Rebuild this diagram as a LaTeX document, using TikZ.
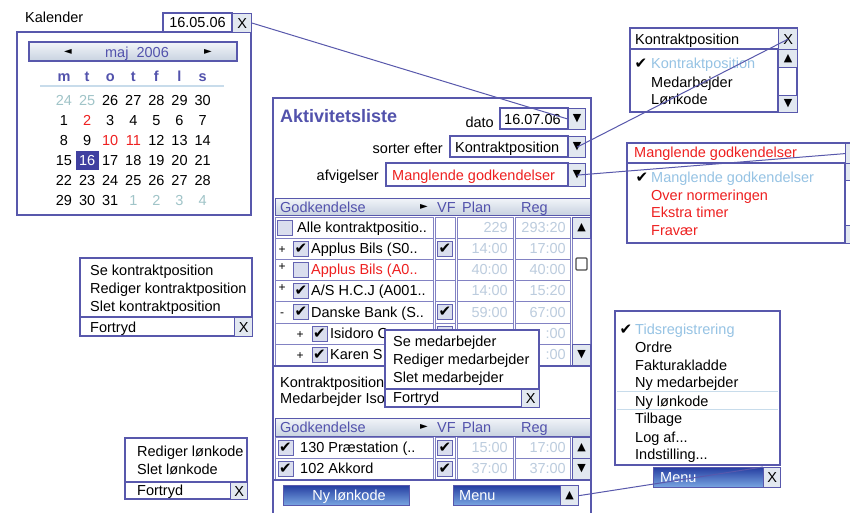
\documentclass[tikz,border=0pt]{standalone}
\usepackage{fontspec}
\setmainfont{Liberation Sans}
\newfontfamily\symf{DejaVu Sans}
\usetikzlibrary{calc}
\definecolor{uiblue}{RGB}{88,88,172}
\definecolor{gridc}{RGB}{130,130,195}
\definecolor{valc}{RGB}{188,204,222}
\definecolor{lightsel}{RGB}{150,195,228}
\definecolor{calgray}{RGB}{160,196,200}
\definecolor{uired}{RGB}{238,32,32}
\definecolor{hdtxt}{RGB}{82,82,172}
\definecolor{barTop}{RGB}{242,245,249}
\definecolor{barBot}{RGB}{200,210,224}
\definecolor{arrfill}{RGB}{226,232,240}
\definecolor{chkfill}{RGB}{218,222,238}
\definecolor{chkdraw}{RGB}{100,100,178}
\definecolor{btnTop}{RGB}{36,60,160}
\definecolor{btnBot}{RGB}{120,165,225}
\definecolor{sepc}{RGB}{200,220,235}
\definecolor{selbg}{RGB}{64,64,160}
\newcommand\ui{\fontsize{14.5}{17}\selectfont}
\newcommand\myck{{\symf\fontsize{15}{15}\selectfont ✔}}
\newcommand\tUp{{\symf\fontsize{11}{11}\selectfont ▲}}
\newcommand\tDn{{\symf\fontsize{11}{11}\selectfont ▼}}
\newcommand\tRt{{\symf\fontsize{10}{10}\selectfont ►}}
\newcommand\tLt{{\symf\fontsize{10}{10}\selectfont ◄}}
\tikzset{
 txt/.style={anchor=base west, inner sep=0pt, font=\ui},
 txtr/.style={anchor=base east, inner sep=0pt, font=\ui},
 txtc/.style={anchor=base, inner sep=0pt, font=\ui},
 frm/.style={draw=uiblue, line width=1.3pt, fill=white},
 sepl/.style={draw=uiblue, line width=1.2pt},
 cellb/.style={draw=gridc, line width=1pt},
 arrbox/.style={draw=uiblue, line width=1.2pt, fill=arrfill, inner sep=0pt, anchor=north west, font=\ui},
 chkb/.style={draw=chkdraw, line width=1pt, fill=chkfill, inner sep=0pt, minimum size=15pt},
 hbar/.style={draw=uiblue, line width=0.8pt, top color=barTop, bottom color=barBot},
 btn/.style={draw=uiblue, line width=1pt, top color=btnTop, bottom color=btnBot},
 conn/.style={draw=uiblue, line width=1pt},
 valtxt/.style={txtr, text=valc},
 plus/.style={anchor=base, inner sep=0pt, font=\fontsize{12}{12}\selectfont},
 hdr/.style={txt, text=hdtxt},
}
\begin{document}
\begin{tikzpicture}[x=1pt,y=-1pt]
\useasboundingbox (0,0) rectangle (850,512);
\clip (0,0) rectangle (850,512);
\fill[white] (0,0) rectangle (850,512);

% ---------------- Calendar ----------------
\node[txt] (kal) at (25,22) {Kalender};
\draw[frm] (17,32) rectangle (251,215);
\draw[frm] (163,13) rectangle (232,32);
\node[txtc] (caldate) at (197.5,27.5) {16.05.06};
\node[arrbox, minimum width=19pt, minimum height=19pt] (calx) at (232,13) {X};
\draw[hbar, line width=1.2pt] (29,42) rectangle (237,61);
\node[txtc, text=hdtxt] (month) at (137,57) {maj\ \ 2006};
\node[inner sep=0pt] (prevm) at (68,51.5) {\tLt};
\node[inner sep=0pt] (nextm) at (208,51.5) {\tRt};
\foreach \d [count=\i from 0] in {m,t,o,t,f,l,s}
  \node[txtc, font=\ui\bfseries, text=hdtxt] (wd\i) at ({64+23.1*\i},81) {\d};
\draw[sepc, line width=1.2pt] (40,86) -- (224,86);
\fill[selbg] (76,151) rectangle (99,170);
\foreach \n/\c [count=\i from 0] in {24/calgray,25/calgray,26/black,27/black,28/black,29/black,30/black}
  \node[txtc,text=\c] (ca\i) at ({64+23.1*\i},105) {\n};
\foreach \n/\c [count=\i from 0] in {1/black,2/uired,3/black,4/black,5/black,6/black,7/black}
  \node[txtc,text=\c] (cb\i) at ({64+23.1*\i},125) {\n};
\foreach \n/\c [count=\i from 0] in {8/black,9/black,10/uired,11/uired,12/black,13/black,14/black}
  \node[txtc,text=\c] (cc\i) at ({64+23.1*\i},145) {\n};
\foreach \n/\c [count=\i from 0] in {15/black,16/white,17/black,18/black,19/black,20/black,21/black}
  \node[txtc,text=\c] (cd\i) at ({64+23.1*\i},165) {\n};
\foreach \n/\c [count=\i from 0] in {22/black,23/black,24/black,25/black,26/black,27/black,28/black}
  \node[txtc,text=\c] (ce\i) at ({64+23.1*\i},185) {\n};
\foreach \n/\c [count=\i from 0] in {29/black,30/black,31/black,1/calgray,2/calgray,3/calgray,4/calgray}
  \node[txtc,text=\c] (cf\i) at ({64+23.1*\i},205) {\n};

% ---------------- Main panel ----------------
\draw[frm] (273,98) rectangle (591,540);
\node[txt, font=\fontsize{18}{20}\selectfont\bfseries, text=hdtxt] (title) at (280,122) {Aktivitetsliste};

\node[txtr] (datol) at (494,127) {dato};
\draw[frm] (500,108) rectangle (568,129);
\node[txt] (datov) at (504,124) {16.07.06};
\node[arrbox, minimum width=17pt, minimum height=21pt] (datoarr) at (568,108) {\tDn};

\node[txtr] (sortl) at (443,153) {sorter efter};
\draw[frm] (450,136) rectangle (568,157);
\node[txt] (sortv) at (455,152) {Kontraktposition};
\node[arrbox, minimum width=17pt, minimum height=21pt] (sortarr) at (568,136) {\tDn};

\node[txtr] (afvl) at (379,180) {afvigelser};
\draw[frm] (386,163) rectangle (568,186);
\node[txt, text=uired] (afvv) at (392,180) {Manglende godkendelser};
\node[arrbox, minimum width=17pt, minimum height=23pt] (afvarr) at (568,163) {\tDn};

% Table 1
\draw[hbar] (275,198) rectangle (590,215);
\node[hdr] (h1a) at (280,212) {Godkendelse};
\node[inner sep=0pt] (h1b) at (424,206.5) {\tRt};
\node[hdr] (h1c) at (437,212) {VF};
\node[hdr] (h1d) at (462,212) {Plan};
\node[hdr] (h1e) at (521,212) {Reg};
\foreach \a/\b in {217/238,238/259,259/280,280/301,301/323,323/344,344/365} {
  \draw[cellb] (275,\a) rectangle (433,\b);
  \draw[cellb] (435,\a) rectangle (455,\b);
  \draw[cellb] (457,\a) rectangle (513,\b);
  \draw[cellb] (515,\a) rectangle (570,\b);
}
\draw[cellb] (572,217) rectangle (590,365);
\node[arrbox, minimum width=18pt, minimum height=21pt] (s1up) at (572,217) {\tUp};
\node[arrbox, minimum width=18pt, minimum height=21pt] (s1dn) at (572,344) {\tDn};
\draw[draw=black!70, line width=1.3pt, fill=white, rounded corners=1pt] (576,258) rectangle (587,270);
\draw[sepl] (273,366) -- (591,366);

% row 1
\node[chkb] (k1) at (284.5,227.5) {};
\node[txt] (n1) at (297,232.5) {Alle kontraktpositio..};
\node[valtxt] (p1) at (508,232.5) {229};
\node[valtxt] (g1) at (566,232.5) {293:20};
% row 2
\node[plus] (x2) at (282,253.5) {+};
\node[chkb] (k2) at (301,248.5) {\myck};
\node[txt] (n2) at (311,253.5) {Applus Bils (S0..};
\node[chkb] (v2) at (445,248.5) {\myck};
\node[valtxt] (p2) at (508,253.5) {14:00};
\node[valtxt] (g2) at (566,253.5) {17:00};
% row 3
\node[plus] (x3) at (282,270) {+};
\node[chkb] (k3) at (301,269.5) {};
\node[txt, text=uired] (n3) at (311,274.5) {Applus Bils (A0..};
\node[valtxt] (p3) at (508,274.5) {40:00};
\node[valtxt] (g3) at (566,274.5) {40:00};
% row 4
\node[plus] (x4) at (282,291) {+};
\node[chkb] (k4) at (301,290.5) {\myck};
\node[txt] (n4) at (311,295.5) {A/S H.C.J (A001..};
\node[valtxt] (p4) at (508,295.5) {14:00};
\node[valtxt] (g4) at (566,295.5) {15:20};
% row 5
\node[plus] (x5) at (282,316) {-};
\node[chkb] (k5) at (301,312) {\myck};
\node[txt] (n5) at (311,317) {Danske Bank (S..};
\node[chkb] (v5) at (445,312) {\myck};
\node[valtxt] (p5) at (508,317) {59:00};
\node[valtxt] (g5) at (566,317) {67:00};
% row 6
\node[plus] (x6) at (300,338.5) {+};
\node[chkb] (k6) at (319.5,333.5) {\myck};
\node[txt] (n6) at (330,338.5) {Isidoro C};
\node[chkb] (v6) at (445,333.5) {};
\node[valtxt] (g6) at (566,338.5) {:00};
% row 7
\node[plus] (x7) at (300,359.5) {+};
\node[chkb] (k7) at (319.5,354.5) {\myck};
\node[txt] (n7) at (330,359.5) {Karen S};
\node[valtxt] (g7) at (566,359.5) {:00};

\node[txt] (info1) at (280,387) {Kontraktposition};
\node[txt] (info2) at (280,403) {Medarbejder Iso};

% Table 2
\draw[hbar] (275,418) rectangle (590,436);
\node[hdr] (h2a) at (280,432) {Godkendelse};
\node[inner sep=0pt] (h2b) at (424,426.5) {\tRt};
\node[hdr] (h2c) at (437,432) {VF};
\node[hdr] (h2d) at (462,432) {Plan};
\node[hdr] (h2e) at (521,432) {Reg};
\foreach \a/\b in {437/458,458/479} {
  \draw[cellb] (275,\a) rectangle (433,\b);
  \draw[cellb] (435,\a) rectangle (455,\b);
  \draw[cellb] (457,\a) rectangle (513,\b);
  \draw[cellb] (515,\a) rectangle (570,\b);
}
\node[arrbox, minimum width=18pt, minimum height=21pt] (s2up) at (572,437) {\tUp};
\node[arrbox, minimum width=18pt, minimum height=21pt] (s2dn) at (572,458) {\tDn};
\draw[sepl] (273,480) -- (591,480);
\node[chkb] (q1) at (285.5,447.5) {\myck};
\node[txt] (m1) at (300,452.5) {130 Præstation (..};
\node[chkb] (w1) at (445,447.5) {\myck};
\node[valtxt] (pp1) at (508,452.5) {15:00};
\node[valtxt] (gg1) at (566,452.5) {17:00};
\node[chkb] (q2) at (285.5,468.5) {\myck};
\node[txt] (m2) at (300,473.5) {102 Akkord};
\node[chkb] (w2) at (445,468.5) {\myck};
\node[valtxt] (pp2) at (508,473.5) {37:00};
\node[valtxt] (gg2) at (566,473.5) {37:00};

% buttons
\draw[btn] (283,485) rectangle (409,505);
\node[txtc, text=white] (nylk) at (349,500) {Ny lønkode};
\draw[btn] (453,485) rectangle (560,505);
\node[txt, text=white] (menut) at (459,500) {Menu};
\node[arrbox, minimum width=18pt, minimum height=20pt] (menuarr) at (560,485) {\tUp};

% ---------------- Context menus ----------------
\draw[frm] (385,330) rectangle (539,407);
\draw[sepl] (385,389) -- (539,389);
\node[txt] (cm1) at (393,346) {Se medarbejder};
\node[txt] (cm2) at (393,364) {Rediger medarbejder};
\node[txt] (cm3) at (393,382) {Slet medarbejder};
\node[txt] (cm4) at (393,402) {Fortryd};
\node[arrbox, minimum width=18pt, minimum height=18pt] (cmx) at (521,389) {X};

\draw[frm] (80,258) rectangle (252,336);
\draw[sepl] (80,317) -- (252,317);
\node[txt] (lm1) at (90,275) {Se kontraktposition};
\node[txt] (lm2) at (90,293) {Rediger kontraktposition};
\node[txt] (lm3) at (90,311) {Slet kontraktposition};
\node[txt] (lm4) at (90,332) {Fortryd};
\node[arrbox, minimum width=18pt, minimum height=19pt] (lmx) at (234,317) {X};

\draw[frm] (125,438) rectangle (247,499);
\draw[sepl] (125,482) -- (247,482);
\node[txt] (bm1) at (137,456) {Rediger lønkode};
\node[txt] (bm2) at (137,474) {Slet lønkode};
\node[txt] (bm3) at (137,495) {Fortryd};
\node[arrbox, minimum width=17pt, minimum height=17pt] (bmx) at (230,482) {X};

% ---------------- Kontraktposition dropdown ----------------
\draw[frm] (630,28) rectangle (797,112);
\draw[sepl] (630,49) -- (797,49);
\node[txt] (kph) at (635,44) {Kontraktposition};
\node[arrbox, minimum width=19pt, minimum height=21pt] (kpx) at (778,28) {X};
\draw[sepl] (778,49) -- (778,112);
\node[arrbox, minimum width=19pt, minimum height=18pt] (kpup) at (778,49) {\tUp};
\node[arrbox, minimum width=19pt, minimum height=17pt] (kpdn) at (778,95) {\tDn};
\node[anchor=base, inner sep=0pt] (kpc) at (641,68) {\myck};
\node[txt, text=lightsel] (kp1) at (651,68) {Kontraktposition};
\node[txt] (kp2) at (651,87) {Medarbejder};
\node[txt] (kp3) at (651,104) {Lønkode};

% ---------------- Afvigelser dropdown ----------------
\draw[frm] (627,143) rectangle (880,243);
\draw[sepl] (627,163) -- (880,163);
\node[txt, text=uired] (mgh) at (634,157) {Manglende godkendelser};
\node[arrbox, minimum width=20pt, minimum height=20pt] (mgx) at (845,143) {};
\draw[sepl] (845,163) -- (845,243);
\node[arrbox, minimum width=20pt, minimum height=17pt] (mgup) at (845,163) {};
\node[arrbox, minimum width=20pt, minimum height=18pt] (mgdn) at (845,225) {};
\node[anchor=base, inner sep=0pt] (mgc) at (642,182) {\myck};
\node[txt, text=lightsel] (mg1) at (651,182) {Manglende godkendelser};
\node[txt, text=uired] (mg2) at (651,200) {Over normeringen};
\node[txt, text=uired] (mg3) at (651,217) {Ekstra timer};
\node[txt, text=uired] (mg4) at (651,235) {Fravær};

% ---------------- Menu popup ----------------
\draw[frm] (615,311) rectangle (780,465);
\draw[sepc, line width=1pt] (617,391) -- (778,391);
\draw[sepc, line width=1pt] (617,409) -- (778,409);
\node[anchor=base, inner sep=0pt] (rmc) at (626,334) {\myck};
\node[txt, text=lightsel] (rm1) at (635,334) {Tidsregistrering};
\node[txt] (rm2) at (635,352) {Ordre};
\node[txt] (rm3) at (635,370) {Fakturakladde};
\node[txt] (rm4) at (635,387) {Ny medarbejder};
\node[txt] (rm5) at (635,406) {Ny lønkode};
\node[txt] (rm6) at (635,423) {Tilbage};
\node[txt] (rm7) at (635,442) {Log af...};
\node[txt] (rm8) at (635,459) {Indstilling...};
\draw[btn] (653,467) rectangle (763,487);
\node[txt, text=white] (rmt) at (660,482) {Menu};
\node[arrbox, minimum width=17pt, minimum height=20pt] (rmx) at (763,467) {X};

% ---------------- Connectors ----------------
\draw[conn] (calx.east) -- (datoarr.west);
\draw[conn] (sortarr.center) -- (kpx.center);
\draw[conn] (afvarr.center) -- (mgx.west);
\draw[conn] (menuarr.east) -- (rmx.north west);
\end{tikzpicture}
\end{document}
